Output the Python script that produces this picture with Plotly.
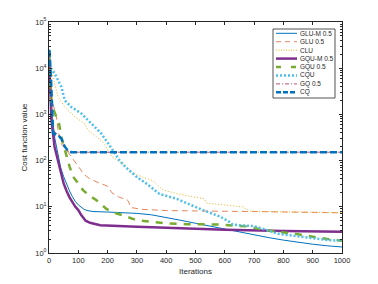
import plotly.graph_objects as go

# ---- data ----
names = ["GLU-M 0.5", "GLU 0.5", "CLU", "GQU-M 0.5", "GQU 0.5", "CQU", "GQ 0.5", "CQ"]

glum_x = [0, 5, 10, 20, 30, 40, 50, 60, 70, 80, 90, 100, 110, 120, 130, 150, 200, 300, 350, 400, 450, 500, 550, 600, 650, 700, 750, 800, 850, 900, 950, 1000]
glum_y = [20000, 3000, 1000, 300, 130, 70, 45, 30, 22, 16.5, 13, 11, 9.6, 8.8, 8.3, 7.9, 7.7, 7.2, 6.7, 5.9, 5.1, 4.4, 3.8, 3.3, 2.9, 2.5, 2.15, 1.9, 1.7, 1.55, 1.43, 1.35]

glu_x = [0, 5, 10, 20, 25, 31, 38, 42, 59, 82, 100, 120, 140, 170, 200, 215, 240, 265, 270, 280, 320, 400, 470, 600, 700, 850, 1000]
glu_y = [20000, 5000, 2000, 1200, 900, 450, 260, 230, 170, 110, 75, 50, 40, 33, 28, 20, 16, 14.5, 13.5, 9.6, 8.8, 8.3, 8.1, 8.0, 7.9, 7.6, 7.4]

clu_x = [0, 10, 19, 31, 54, 88, 122, 133, 156, 184, 201, 213, 240, 264, 286, 320, 354, 389, 434, 491, 530, 538, 600, 661, 684, 700, 850, 1000]
clu_y = [20000, 8000, 4700, 2400, 1450, 890, 630, 455, 350, 250, 170, 125, 95, 72, 55, 44, 37, 23, 19.5, 16.5, 15, 12, 11, 10, 8.2, 8.0, 7.7, 7.5]

gqum_x = [0, 3, 8, 19, 31, 40, 50, 60, 70, 90, 100, 110, 125, 140, 175, 300, 480, 600, 800, 1000]
gqum_y = [20000, 8000, 800, 200, 100, 55, 32, 22, 16, 10, 8.5, 6.6, 5.0, 4.5, 4.0, 3.7, 3.35, 3.2, 3.0, 2.9]

gqu_x = [0, 3, 8, 15, 25, 35, 42, 50, 58, 70, 82, 100, 116, 140, 161, 180, 196, 220, 250, 300, 350, 400, 470, 570, 680, 740, 840, 900, 950, 1000]
gqu_y = [20000, 6000, 2000, 1300, 900, 600, 330, 200, 140, 75, 45, 32, 23, 17, 14, 11, 9, 7.5, 6.6, 5.1, 4.7, 4.4, 4.2, 4.15, 3.75, 3.1, 2.6, 2.25, 2.0, 1.85]

cqu_x = [0, 2, 19, 42, 54, 76, 110, 144, 178, 201, 224, 241, 264, 298, 332, 377, 434, 468, 525, 582, 610, 627, 700, 740, 783, 874, 953, 1000]
cqu_y = [22000, 11000, 7700, 4000, 2000, 1450, 1050, 640, 390, 240, 145, 100, 70, 45, 32, 19, 15, 12, 8.5, 6.2, 5.0, 4.1, 3.8, 3.2, 2.6, 2.2, 1.9, 1.85]

gq_x = [0, 3, 8, 14, 31, 42, 54, 65, 76, 1000]
gq_y = [22000, 8000, 3000, 450, 360, 300, 200, 160, 152, 152]

cq_x = [0, 2, 8, 14, 31, 42, 54, 65, 76, 1000]
cq_y = [25000, 23000, 4000, 390, 355, 300, 200, 162, 152, 152]

x_ticks = list(range(0, 1001, 100))
y_ticks = [1, 10, 100, 1000, 10000, 100000]
y_ticktext = ["10<sup>0</sup>", "10<sup>1</sup>", "10<sup>2</sup>", "10<sup>3</sup>", "10<sup>4</sup>", "10<sup>5</sup>"]

xs = [glum_x, glu_x, clu_x, gqum_x, gqu_x, cqu_x, gq_x, cq_x]
ys = [glum_y, glu_y, clu_y, gqum_y, gqu_y, cqu_y, gq_y, cq_y]

colors = ["#0072BD", "#E8855A", "#EDB120", "#7E2F8E", "#77AC30", "#4DBEEE", "#C0506A", "#0072BD"]
widths = [1, 1, 1, 2.5, 2.5, 2.5, 1, 2.5]
dashes = ["solid", "6px,4px", "1px,2px", "solid", "7px,7px", "2px,2px", "6px,2px,1px,2px", "7px,3px"]
leg_dashes = ["solid", "5px,4px", "1px,1.5px", "solid", "5px,10px", "2px,2px", "4px,2px,1px,2px", "5px,2px"]

fig = go.Figure()
for n, x, y, c, w, d in zip(names, xs, ys, colors, widths, dashes):
    fig.add_trace(go.Scatter(x=x, y=y, mode="lines", name=n, showlegend=False,
                             line=dict(color=c, width=w, dash=d)))

axis_color = "#262626"
minor_vals = [m * 10 ** e for e in range(0, 5) for m in range(2, 10)]

# page offset of 8px (default body margin) is compensated here
OFF = 8
W, H = 378 - OFF, 284 - OFF
L, R, T, B = 49 - OFF, 342 - OFF, 22 - OFF, 253 - OFF
pw, ph = R - L, B - T

def px_x(p):
    return (p - OFF - L) / pw

def px_y(p):
    return (B - (p - OFF)) / ph

shapes = [dict(type="rect", xref="paper", yref="paper",
               x0=px_x(273), x1=px_x(335), y0=px_y(98), y1=px_y(29),
               line=dict(color=axis_color, width=0.8), fillcolor="white", layer="above")]
annotations = []
row0, dy = 33.3, 8.43
for i, (n, c, w, d) in enumerate(zip(names, colors, widths, leg_dashes)):
    yy = row0 + i * dy
    shapes.append(dict(type="line", xref="paper", yref="paper",
                       x0=px_x(276), x1=px_x(297), y0=px_y(yy), y1=px_y(yy),
                       line=dict(color=c, width=w, dash=d), layer="above"))
    annotations.append(dict(xref="paper", yref="paper", x=px_x(298), y=px_y(yy),
                            text=n, showarrow=False, xanchor="left", yanchor="middle",
                            font=dict(size=6.5, color=axis_color)))

fig.update_layout(
    width=W, height=H,
    margin=dict(l=L, r=W - R, t=T, b=H - B, autoexpand=False),
    paper_bgcolor="white", plot_bgcolor="white",
    font=dict(family="Liberation Sans, Arial, sans-serif", size=7.5, color=axis_color),
    showlegend=False,
    shapes=shapes,
    annotations=annotations,
    xaxis=dict(range=[0, 1000], tickvals=x_ticks,
               ticks="inside", ticklen=3, tickcolor=axis_color, automargin=False,
               showline=True, linecolor=axis_color, linewidth=1, mirror="ticks",
               showgrid=False, zeroline=False, tickfont=dict(size=7.5),
               title=dict(text="Iterations", font=dict(size=8), standoff=4)),
    yaxis=dict(type="log", range=[0, 5],
               tickvals=y_ticks, ticktext=y_ticktext, automargin=False,
               ticks="inside", ticklen=3, tickcolor=axis_color,
               minor=dict(tickvals=minor_vals, ticks="inside", ticklen=2, tickcolor=axis_color),
               showline=True, linecolor=axis_color, linewidth=1, mirror="allticks",
               showgrid=False, zeroline=False, tickfont=dict(size=7.5),
               title=dict(text="Cost function value", font=dict(size=8), standoff=6)),
)

fig.write_html("out.html")
